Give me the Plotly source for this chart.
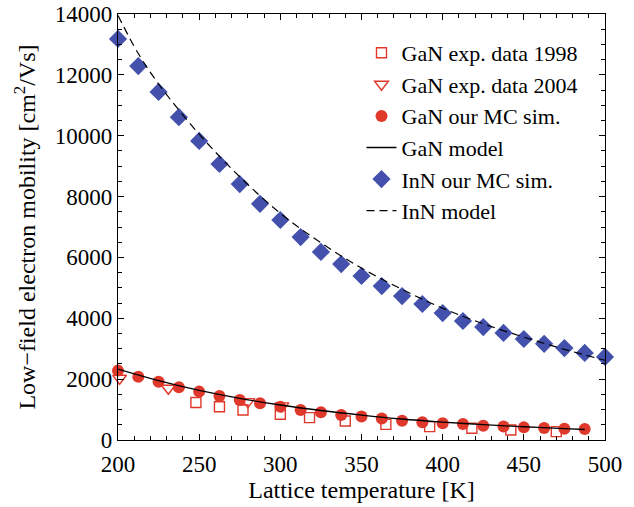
import plotly.graph_objects as go

# ---- data ----
T_mc = [200, 212.5, 225, 237.5, 250, 262.5, 275, 287.5, 300, 312.5, 325, 337.5,
        350, 362.5, 375, 387.5, 400, 412.5, 425, 437.5, 450, 462.5, 475, 487.5, 500]
inn_mc = [13180, 12290, 11440, 10610, 9830, 9070, 8410, 7760, 7230, 6670, 6180, 5780,
          5390, 5060, 4730, 4470, 4170, 3910, 3710, 3520, 3320, 3160, 3020, 2860, 2730]

T_inn_model = [200, 212.5, 225, 250, 275, 300, 325, 350, 375, 400, 425, 450, 475, 500]
inn_model = [13950, 12700, 11700, 10050, 8650, 7450, 6480, 5650, 4950, 4330, 3820, 3380, 2980, 2620]

T_gan_mc = [200, 212.5, 225, 237.5, 250, 262.5, 275, 287.5, 300, 312.5, 325, 337.5,
            350, 362.5, 375, 387.5, 400, 412.5, 425, 437.5, 450, 462.5, 475, 487.5]
gan_mc = [2280, 2080, 1915, 1730, 1590, 1445, 1315, 1205, 1095, 985, 910, 820,
          770, 710, 635, 580, 548, 525, 470, 440, 415, 395, 372, 360]

T_gan_model = [200, 225, 250, 275, 300, 325, 350, 375, 400, 425, 450, 475, 487.5]
gan_model = [2330, 1950, 1630, 1370, 1150, 970, 820, 690, 590, 505, 435, 375, 345]

T_exp1998 = [248, 262.5, 277, 300, 318, 340, 365, 392, 418, 442, 470]
gan_exp1998 = [1230, 1095, 985, 845, 735, 625, 515, 440, 385, 330, 275]

T_exp2004 = [201, 231, 280, 301]
gan_exp2004 = [2030, 1700, 1260, 1120]

x_ticks = [200, 250, 300, 350, 400, 450, 500]
y_ticks = [0, 2000, 4000, 6000, 8000, 10000, 12000, 14000]

RED = "#e0382a"
BLUE = "#4351ad"
FONT = "Liberation Serif"

fig = go.Figure()

fig.add_trace(go.Scatter(x=T_exp1998, y=gan_exp1998, mode="markers", name="GaN exp. data 1998",
                         marker=dict(symbol="square-open", size=10, color=RED, line=dict(width=1.4, color=RED)),
                         legendrank=1, cliponaxis=False))
fig.add_trace(go.Scatter(x=T_exp2004, y=gan_exp2004, mode="markers", name="GaN exp. data 2004",
                         marker=dict(symbol="triangle-down-open", size=12, color=RED, line=dict(width=1.4, color=RED)),
                         legendrank=2, cliponaxis=False))
fig.add_trace(go.Scatter(x=T_gan_mc, y=gan_mc, mode="markers", name="GaN our MC sim.",
                         marker=dict(symbol="circle", size=12, color=RED),
                         legendrank=3, cliponaxis=False))
fig.add_trace(go.Scatter(x=T_mc, y=inn_mc, mode="markers", name="InN our MC sim.",
                         marker=dict(symbol="diamond", size=14, color=BLUE),
                         legendrank=5, cliponaxis=False))
fig.add_trace(go.Scatter(x=T_gan_model, y=gan_model, mode="lines", name="GaN model",
                         line=dict(color="black", width=1.3, shape="spline"),
                         legendrank=4))
fig.add_trace(go.Scatter(x=T_inn_model, y=inn_model, mode="lines", name="InN model",
                         line=dict(color="black", width=1.2, dash="8px,5px", shape="spline"),
                         legendrank=6))

axis_common = dict(showgrid=False, zeroline=False, showline=True, linecolor="black", linewidth=1.3,
                   mirror="allticks", ticks="inside", ticklen=6, tickwidth=1, tickcolor="black",
                   automargin=False,
                   tickfont=dict(family=FONT, size=23, color="black"))

fig.update_xaxes(range=[200, 500], tickvals=x_ticks, ticktext=[str(v) for v in x_ticks],
                 minor=dict(dtick=10, ticks="inside", ticklen=3.5, tickcolor="black", tick0=200),
                 ticklabelstandoff=3,
                 title=dict(text="Lattice temperature [K]", font=dict(family=FONT, size=24, color="black"), standoff=5),
                 **axis_common)
fig.update_yaxes(range=[0, 14000], tickvals=y_ticks, ticktext=[str(v) for v in y_ticks],
                 minor=dict(dtick=500, ticks="inside", ticklen=3.5, tickcolor="black", tick0=0),
                 title=dict(text="Low−field electron mobility [cm<sup>2</sup>/Vs]",
                            font=dict(family=FONT, size=24, color="black"), standoff=12),
                 **axis_common)

fig.update_layout(
    width=634, height=507,
    margin=dict(l=117.5, r=29, t=14, b=67),
    plot_bgcolor="white", paper_bgcolor="white",
    font=dict(family=FONT, color="black"),
    legend=dict(x=0.5, y=0.958, xanchor="left", yanchor="top",
                font=dict(family=FONT, size=22, color="black"),
                bgcolor="rgba(0,0,0,0)", borderwidth=0, tracegroupgap=0),
)

fig.write_html("out.html")
